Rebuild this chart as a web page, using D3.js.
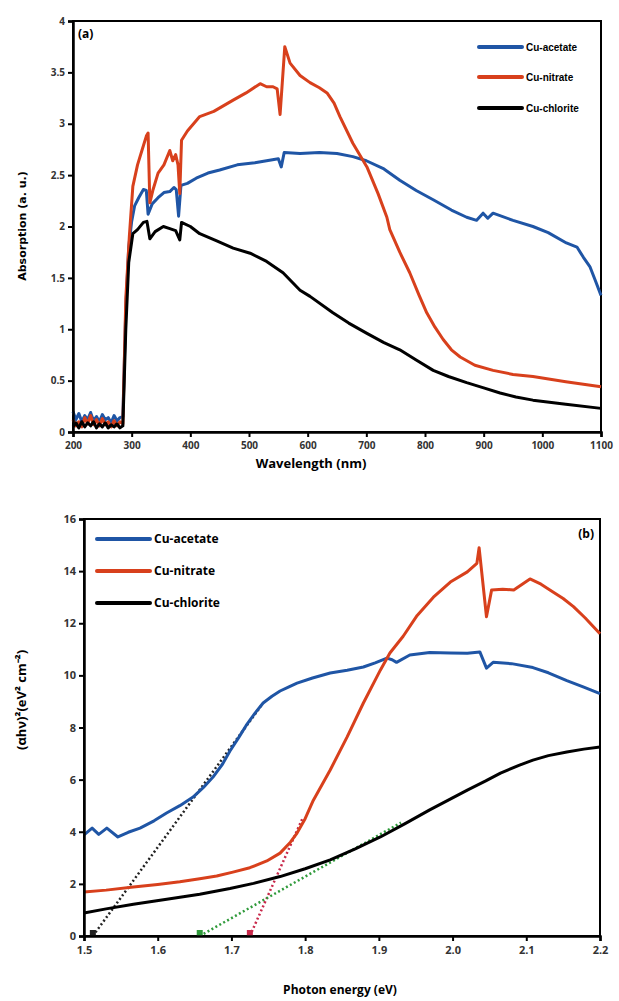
<!DOCTYPE html>
<html>
<head>
<meta charset="utf-8">
<script src="https://cdn.jsdelivr.net/npm/d3@7"></script>
<style>
  body { margin: 0; background: #fff; }
  svg { display: block; }
  .tick text { font-family: "Open Sans", "DejaVu Sans", sans-serif; font-weight: bold; fill: #333; }
</style>
</head>
<body>
<svg id="chart" width="619" height="1001"></svg>
<script>
// ---- panel (a): absorption vs wavelength ----
const wlTicks = [200, 300, 400, 500, 600, 700, 800, 900, 1000, 1100];
const absTicks = [0, 0.5, 1, 1.5, 2, 2.5, 3, 3.5, 4];

const acetateA = [[200,0.2],[205,0.12],[210,0.18],[215,0.1],[220,0.16],[225,0.12],[230,0.19],[235,0.11],[240,0.15],[245,0.1],[250,0.17],[255,0.12],[260,0.14],[265,0.09],[270,0.16],[275,0.11],[280,0.14],[285,0.15],
  [290,1.2],[295,1.8],[300,2.05],[305,2.2],[312,2.28],[320,2.36],[325,2.35],[328,2.12],[335,2.22],[345,2.28],[355,2.33],[365,2.34],[372,2.38],[376,2.36],[380,2.1],[384,2.4],[395,2.42],[410,2.47],[430,2.52],[450,2.55],[480,2.6],[510,2.62],[540,2.65],[550,2.66],[555,2.58],[560,2.72],[587,2.71],[620,2.72],[650,2.71],[677,2.68],[700,2.64],[730,2.56],[757,2.45],[785,2.35],[814,2.26],[845,2.16],[871,2.09],[888,2.06],[899,2.13],[907,2.08],[916,2.13],[950,2.06],[984,2.0],[1010,1.94],[1041,1.84],[1059,1.8],[1070,1.7],[1081,1.61],[1090,1.48],[1100,1.33]];

const nitrateA = [[200,0.12],[205,0.06],[210,0.1],[215,0.05],[220,0.14],[225,0.08],[230,0.16],[235,0.07],[240,0.12],[245,0.06],[250,0.13],[255,0.07],[260,0.1],[265,0.05],[270,0.11],[275,0.06],[280,0.1],[285,0.08],
  [290,1.3],[296,1.9],[302,2.39],[310,2.6],[318,2.75],[325,2.88],[328,2.91],[331,2.23],[336,2.35],[345,2.52],[355,2.6],[365,2.74],[370,2.64],[375,2.7],[379,2.6],[382,2.32],[385,2.84],[395,2.93],[416,3.07],[440,3.12],[473,3.23],[495,3.3],[519,3.39],[530,3.36],[541,3.36],[548,3.34],[553,3.09],[561,3.75],[570,3.59],[587,3.47],[604,3.4],[620,3.35],[633,3.3],[645,3.2],[655,3.07],[677,2.81],[701,2.58],[720,2.32],[735,2.09],[740,1.97],[757,1.75],[774,1.55],[790,1.33],[803,1.16],[817,1.02],[831,0.9],[845,0.8],[860,0.73],[885,0.65],[916,0.6],[950,0.56],[984,0.54],[1040,0.49],[1100,0.44]];

const chloriteA = [[200,0.05],[205,0.09],[210,0.04],[215,0.1],[220,0.05],[225,0.09],[230,0.06],[235,0.1],[240,0.04],[245,0.08],[250,0.05],[255,0.09],[260,0.04],[265,0.07],[270,0.05],[275,0.08],[280,0.04],[285,0.06],
  [290,1.0],[295,1.65],[302,1.93],[310,1.97],[320,2.04],[326,2.05],[331,1.88],[340,1.95],[354,2.0],[365,1.98],[375,1.96],[382,1.87],[385,2.04],[400,2.0],[416,1.93],[445,1.86],[473,1.79],[502,1.74],[530,1.66],[558,1.55],[587,1.38],[604,1.32],[643,1.16],[670,1.06],[701,0.96],[730,0.87],[757,0.8],[785,0.7],[814,0.6],[840,0.54],[871,0.48],[900,0.43],[928,0.38],[955,0.34],[984,0.31],[1040,0.27],[1100,0.23]];

// ---- panel (b): Tauc plot ----
const evTicks = [1.5, 1.6, 1.7, 1.8, 1.9, 2.0, 2.1, 2.2];
const taucTicks = [0, 2, 4, 6, 8, 10, 12, 14, 16];

const acetateB = [[1.5,3.88],[1.511,4.14],[1.52,3.9],[1.531,4.14],[1.546,3.8],[1.56,3.98],[1.576,4.14],[1.595,4.42],[1.612,4.72],[1.63,5.0],[1.648,5.33],[1.662,5.7],[1.675,6.1],[1.688,6.6],[1.698,7.1],[1.71,7.62],[1.72,8.08],[1.732,8.55],[1.743,8.94],[1.755,9.2],[1.766,9.4],[1.778,9.56],[1.789,9.7],[1.81,9.9],[1.834,10.09],[1.857,10.2],[1.879,10.32],[1.895,10.48],[1.911,10.66],[1.918,10.6],[1.924,10.5],[1.942,10.78],[1.969,10.88],[1.997,10.86],[2.02,10.85],[2.037,10.9],[2.046,10.28],[2.055,10.5],[2.08,10.45],[2.109,10.3],[2.13,10.1],[2.155,9.8],[2.178,9.55],[2.2,9.3]];

const nitrateB = [[1.5,1.69],[1.53,1.76],[1.567,1.88],[1.6,1.98],[1.63,2.08],[1.657,2.2],[1.68,2.3],[1.702,2.45],[1.725,2.62],[1.748,2.88],[1.766,3.18],[1.78,3.6],[1.789,3.95],[1.8,4.5],[1.811,5.2],[1.834,6.37],[1.857,7.64],[1.879,8.94],[1.902,10.2],[1.915,10.86],[1.933,11.5],[1.952,12.3],[1.974,13.0],[1.997,13.58],[2.02,13.97],[2.033,14.3],[2.036,14.9],[2.046,12.25],[2.053,13.28],[2.068,13.3],[2.083,13.28],[2.105,13.7],[2.12,13.5],[2.132,13.28],[2.15,12.95],[2.164,12.64],[2.18,12.2],[2.2,11.6]];

const chloriteB = [[1.5,0.88],[1.53,1.04],[1.567,1.22],[1.61,1.4],[1.657,1.6],[1.698,1.82],[1.73,2.02],[1.766,2.28],[1.8,2.58],[1.834,2.92],[1.868,3.34],[1.902,3.8],[1.935,4.3],[1.969,4.84],[2.0,5.3],[2.02,5.6],[2.045,5.95],[2.065,6.25],[2.09,6.55],[2.109,6.75],[2.13,6.92],[2.155,7.06],[2.178,7.17],[2.2,7.25]];

// fitted tangents (start on the energy axis)
const tangentAcetate = [[1.512, 0], [1.742, 8.9]];
const tangentNitrate = [[1.725, 0], [1.797, 4.55]];
const tangentChlorite = [[1.657, 0], [1.93, 4.35]];

const legendNames = ["Cu-acetate", "Cu-nitrate", "Cu-chlorite"];
const colors = ["#1f55a5", "#d8401c", "#000000"];

const svg = d3.select("#chart");

function panel(opt) {
  const x = d3.scaleLinear().domain(opt.xDomain).range([opt.left, opt.right]);
  const y = d3.scaleLinear().domain(opt.yDomain).range([opt.bottom, opt.top]);
  const g = svg.append("g");

  g.append("rect")
    .attr("x", opt.left).attr("y", opt.top)
    .attr("width", opt.right - opt.left).attr("height", opt.bottom - opt.top)
    .attr("fill", "none").attr("stroke", "#000").attr("stroke-width", 2);

  const line = d3.line().x(d => x(d[0])).y(d => y(d[1]));

  // tangents sit under the data curves
  if (opt.tangents) {
    opt.tangents.forEach(t => {
      g.append("path")
        .datum(t.pts)
        .attr("d", line)
        .attr("fill", "none")
        .attr("stroke", t.color)
        .attr("stroke-width", 2.5)
        .attr("stroke-dasharray", "2,2.5");
      g.append("rect")
        .attr("x", x(t.pts[0][0]) - 3).attr("y", y(0) - 6)
        .attr("width", 6).attr("height", 6)
        .attr("fill", t.color);
    });
  }

  opt.series.forEach((s, i) => {
    g.append("path")
      .datum(s)
      .attr("d", line)
      .attr("fill", "none")
      .attr("stroke", colors[i])
      .attr("stroke-width", 3)
      .attr("stroke-linejoin", "round");
  });

  const xAxis = g.append("g")
    .attr("transform", "translate(0," + opt.bottom + ")")
    .call(d3.axisBottom(x).tickValues(opt.xTicks).tickSize(5).tickFormat(opt.xFmt));
  const yAxis = g.append("g")
    .attr("transform", "translate(" + opt.left + ",0)")
    .call(d3.axisLeft(y).tickValues(opt.yTicks).tickSize(5).tickFormat(opt.yFmt));

  [xAxis, yAxis].forEach(a => {
    a.select(".domain").attr("stroke", "#000").attr("stroke-width", 2.5);
    a.selectAll(".tick line").attr("stroke", "#000").attr("stroke-width", 2);
    a.selectAll(".tick text").style("font-size", opt.tickSize + "px");
  });
  xAxis.selectAll(".tick text").attr("dy", "0.9em");

  // legend
  opt.legendPos.forEach((p, i) => {
    g.append("line")
      .attr("x1", p[0]).attr("x2", p[0] + opt.legendLen)
      .attr("y1", p[1]).attr("y2", p[1])
      .attr("stroke", colors[i]).attr("stroke-width", 4)
      .attr("stroke-linecap", "round");
    g.append("text")
      .attr("x", p[0] + opt.legendLen + 4).attr("y", p[1])
      .attr("dy", "0.35em")
      .style("font-family", opt.legendFont)
      .style("font-weight", "bold")
      .style("font-size", opt.legendSize + "px")
      .text(legendNames[i]);
  });

  g.append("text")
    .attr("x", opt.tag[0]).attr("y", opt.tag[1])
    .attr("text-anchor", opt.tag[2])
    .style("font-family", "Open Sans, sans-serif")
    .style("font-weight", "bold").style("font-size", "12px")
    .text(opt.tagText);

  g.append("text")
    .attr("x", opt.xLabelX).attr("y", opt.xLabelY)
    .attr("text-anchor", "middle")
    .style("font-family", "Open Sans, sans-serif")
    .style("font-weight", "bold").style("font-size", opt.labelSize + "px")
    .text(opt.xLabel);

  g.append("text")
    .attr("transform", "translate(" + opt.yLabelX + "," + opt.yLabelY + ") rotate(-90)")
    .attr("text-anchor", "middle")
    .style("font-family", opt.yLabelFont)
    .style("font-weight", "bold").style("font-size", opt.yLabelSize + "px")
    .text(opt.yLabel);
}

panel({
  xDomain: [200, 1100], yDomain: [0, 4],
  left: 73, right: 601, top: 21, bottom: 432,
  series: [acetateA, nitrateA, chloriteA],
  xTicks: wlTicks, yTicks: absTicks,
  xFmt: d3.format("d"), yFmt: d => String(d),
  tickSize: 10,
  legendPos: [[479, 47], [479, 77], [479, 108]], legendLen: 43,
  legendFont: "Liberation Sans Narrow, Liberation Sans, sans-serif", legendSize: 10,
  tag: [78, 38, "start"], tagText: "(a)",
  xLabel: "Wavelength (nm)", xLabelX: 311, xLabelY: 468, labelSize: 13,
  yLabel: "Absorption (a. u.)", yLabelX: 26, yLabelY: 226,
  yLabelFont: "DejaVu Sans, sans-serif", yLabelSize: 11
});

panel({
  xDomain: [1.5, 2.2], yDomain: [0, 16],
  left: 84, right: 600, top: 519, bottom: 936,
  series: [acetateB, nitrateB, chloriteB],
  tangents: [
    { pts: tangentAcetate, color: "#222" },
    { pts: tangentNitrate, color: "#c8284a" },
    { pts: tangentChlorite, color: "#2e9a3a" }
  ],
  xTicks: evTicks, yTicks: taucTicks,
  xFmt: d3.format(".1f"), yFmt: d3.format("d"),
  tickSize: 11,
  legendPos: [[97, 539], [97, 571], [97, 603]], legendLen: 53,
  legendFont: "Open Sans, sans-serif", legendSize: 12,
  tag: [594, 538, "end"], tagText: "(b)",
  xLabel: "Photon energy (eV)", xLabelX: 340, xLabelY: 994, labelSize: 12,
  yLabel: "(αhν)²(eV² cm⁻²)", yLabelX: 26, yLabelY: 700,
  yLabelFont: "Open Sans, sans-serif", yLabelSize: 13
});
</script>
</body>
</html>
